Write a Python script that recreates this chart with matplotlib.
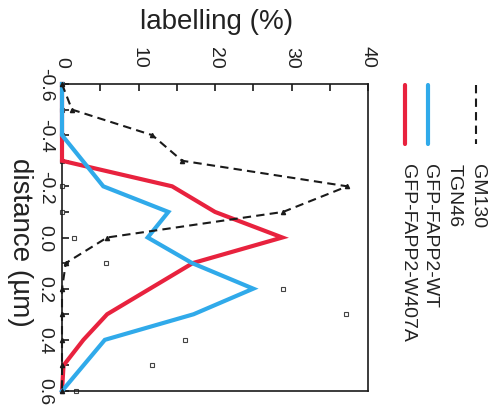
import matplotlib
matplotlib.use("Agg")
import matplotlib.pyplot as plt
from matplotlib.ticker import MultipleLocator

plt.rcParams["font.family"] = ["Liberation Sans", "DejaVu Sans"]

# distance along the Golgi axis (um) and labelling (%) per marker
distance = [-0.6, -0.5, -0.4, -0.3, -0.2, -0.1, 0.0, 0.1, 0.2, 0.3, 0.4, 0.5, 0.6]
gm130 = [0.0, 1.3, 11.8, 15.7, 37.3, 28.9, 5.9, 0.5, 0.0, 0.0, 0.0, 0.0, 0.0]
tgn46 = [0.0, 0.0, 0.0, 0.0, 0.0, 0.0, 1.6, 5.7, 28.9, 37.1, 16.1, 11.8, 1.8]
fapp2_wt = [0.0, 0.0, 0.0, 2.7, 5.4, 13.9, 11.2, 17.0, 25.0, 17.2, 5.6, 2.8, 0.0]
fapp2_w407a = [0.0, 0.0, 0.0, 0.0, 14.4, 20.0, 28.8, 17.1, 11.5, 5.9, 2.8, 0.2, 0.0]

x_ticks = [0, 10, 20, 30, 40]
y_ticks = [-0.6, -0.4, -0.2, 0.0, 0.2, 0.4, 0.6]
legend_labels = ["GM130", "TGN46", "GFP-FAPP2-WT", "GFP-FAPP2-W407A"]

RED = "#e8223e"
BLUE = "#30aaea"
INK = "#1a1a1a"

W, H = 496, 410
fig = plt.figure(figsize=(W / 100, H / 100), dpi=100)
ax = fig.add_axes([62 / W, 1 - 392 / H, (368 - 62) / W, (392 - 85) / H])

ax.plot(tgn46, distance, ls="none", marker="s", ms=3.2, mfc="white",
        mec="#444444", mew=0.8, clip_on=False, zorder=2.5)
ax.plot(fapp2_w407a, distance, color=RED, lw=3.0, solid_joinstyle="miter",
        clip_on=False, zorder=3)
ax.plot(fapp2_wt, distance, color=BLUE, lw=3.0, solid_joinstyle="miter",
        clip_on=False, zorder=4)
ax.plot(gm130, distance, color=INK, lw=1.5, dashes=(4, 2.5), marker="^",
        ms=3, clip_on=False, zorder=5)

ax.set_xlim(0, 40)
ax.set_ylim(0.6, -0.6)

ax.xaxis.set_ticks_position("top")
ax.set_xticks(x_ticks)
ax.xaxis.set_minor_locator(MultipleLocator(5))
ax.set_yticks(y_ticks)
ax.yaxis.set_minor_locator(MultipleLocator(0.1))
ax.set_xticklabels([str(v) for v in x_ticks], rotation=-90)
ax.set_yticklabels([f"{v:.1f}" for v in y_ticks], rotation=-90, va="center")
ax.tick_params(which="both", direction="in", length=5, width=1.2,
               colors=INK, labelcolor="#222222")
ax.tick_params(axis="x", labelsize=14, pad=12)
ax.tick_params(axis="y", labelsize=14, pad=6)
ax.tick_params(which="both", right=False, bottom=False)
for spine in ax.spines.values():
    spine.set_linewidth(1.2)
    spine.set_color(INK)

fig.text(217 / W, 1 - 22 / H, "labelling (%)", fontsize=20, ha="center",
         va="center", color="#222222")
fig.text(20 / W, 1 - 242 / H, "distance (\u00b5m)", fontsize=20, ha="center",
         va="center", rotation=-90, color="#222222")

# legend, drawn rotated like the rest of the figure
lay = fig.add_axes([0, 0, 1, 1])
lay.set_xlim(0, W)
lay.set_ylim(H, 0)
lay.axis("off")
legend_x = [476, 452, 428, 405]
legend_styles = [
    dict(color=INK, lw=1.5, dashes=(4, 2.5)),
    None,
    dict(color=BLUE, lw=3.0),
    dict(color=RED, lw=3.0),
]
for label, lx, style in zip(legend_labels, legend_x, legend_styles):
    if style is not None:
        lay.plot([lx, lx], [86, 145], solid_capstyle="round", **style)
    lay.text(lx + 2, 164, label, fontsize=14, rotation=-90,
             rotation_mode="anchor", ha="left", va="center", color="#222222")

fig.savefig("out.png", dpi=100)
